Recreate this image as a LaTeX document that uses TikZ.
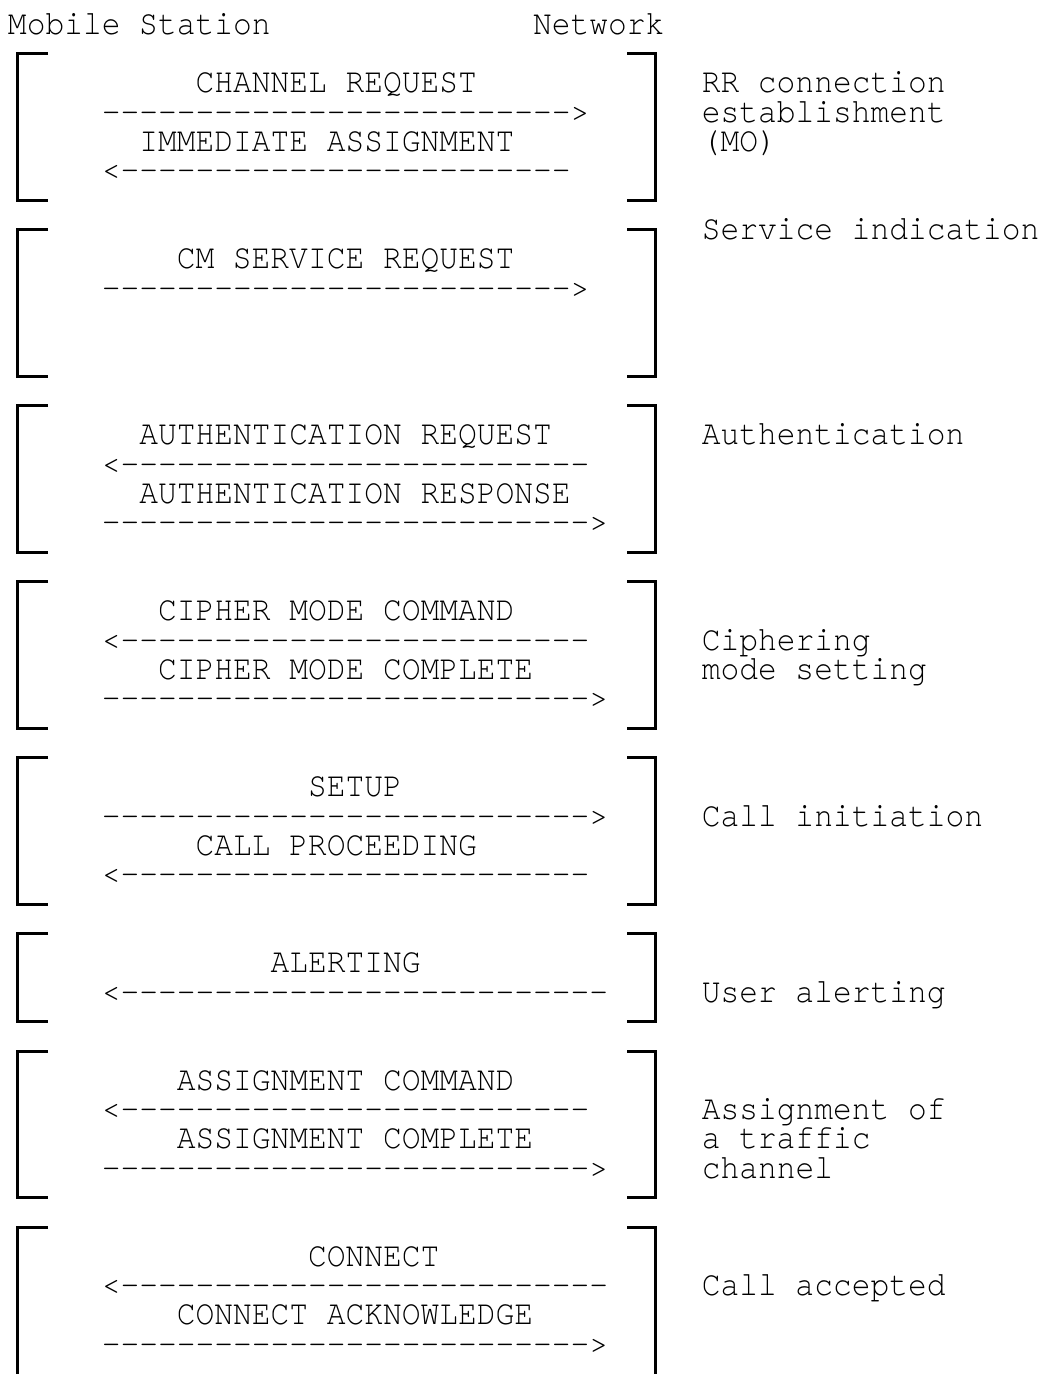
\documentclass[tikz,border=0pt]{standalone}
\usepackage{fontspec}
\newfontfamily\asciifont[Ligatures={TeXOff,CommonOff},FakeStretch=0.906]{TeX Gyre Cursor}
\def\dten{----------}
\def\cw{18.75}
\def\rh{29.333}
\tikzset{
  txt/.style={anchor=base west, inner sep=0pt, outer sep=0pt,
    text height=20pt, text depth=4pt,
    font=\asciifont\fontsize{34.5}{34.5}\selectfont},
  brk/.style={line width=3pt, line join=miter}
}
\newcommand{\msg}[4]{\node[txt] (#1) at ({8+\cw*#2},{34+\rh*#3}) {#4};}
\newcommand{\grp}[3]{%
  \coordinate (#1tl) at (17.8,{24.5+\rh*#2});
  \coordinate (#1bl) at (17.8,{24.5+\rh*#3});
  \coordinate (#1tr) at (655.5,{24.5+\rh*#2});
  \coordinate (#1br) at (655.5,{24.5+\rh*#3});
  \draw[brk] ([xshift=30.2pt]#1tl) -- (#1tl) -- (#1bl) -- ([xshift=30.2pt]#1bl);
  \draw[brk] ([xshift=-28.5pt]#1tr) -- (#1tr) -- (#1br) -- ([xshift=-28.5pt]#1br);
}
\begin{document}
\begin{tikzpicture}[x=1pt,y=-1pt]
\useasboundingbox (0,0) rectangle (1043,1374);
% headers
\msg{ms}{0}{0}{Mobile Station}
\msg{nw}{28}{0}{Network}
% group 1
\grp{g1}{1}{6}
\msg{m1}{10}{2}{CHANNEL REQUEST}
\msg{a1}{5}{3}{\dten\dten----->}
\msg{m2}{7}{4}{IMMEDIATE ASSIGNMENT}
\msg{a2}{5}{5}{<\dten\dten----}
\msg{l1a}{37}{2}{RR connection}
\msg{l1b}{37}{3}{establishment}
\msg{l1c}{37}{4}{(MO)}
% group 2
\grp{g2}{7}{12}
\msg{m3}{9}{8}{CM SERVICE REQUEST}
\msg{a3}{5}{9}{\dten\dten----->}
\msg{l2}{37}{7}{Service indication}
% group 3
\grp{g3}{13}{18}
\msg{m4}{7}{14}{AUTHENTICATION REQUEST}
\msg{a4}{5}{15}{<\dten\dten-----}
\msg{m5}{7}{16}{AUTHENTICATION RESPONSE}
\msg{a5}{5}{17}{\dten\dten------>}
\msg{l3}{37}{14}{Authentication}
% group 4
\grp{g4}{19}{24}
\msg{m6}{8}{20}{CIPHER MODE COMMAND}
\msg{a6}{5}{21}{<\dten\dten-----}
\msg{m7}{8}{22}{CIPHER MODE COMPLETE}
\msg{a7}{5}{23}{\dten\dten------>}
\msg{l4a}{37}{21}{Ciphering}
\msg{l4b}{37}{22}{mode setting}
% group 5
\grp{g5}{25}{30}
\msg{m8}{16}{26}{SETUP}
\msg{a8}{5}{27}{\dten\dten------>}
\msg{m9}{10}{28}{CALL PROCEEDING}
\msg{a9}{5}{29}{<\dten\dten-----}
\msg{l5}{37}{27}{Call initiation}
% group 6
\grp{g6}{31}{34}
\msg{m10}{14}{32}{ALERTING}
\msg{a10}{5}{33}{<\dten\dten------}
\msg{l6}{37}{33}{User alerting}
% group 7
\grp{g7}{35}{40}
\msg{m11}{9}{36}{ASSIGNMENT COMMAND}
\msg{a11}{5}{37}{<\dten\dten-----}
\msg{m12}{9}{38}{ASSIGNMENT COMPLETE}
\msg{a12}{5}{39}{\dten\dten------>}
\msg{l7a}{37}{37}{Assignment of}
\msg{l7b}{37}{38}{a traffic}
\msg{l7c}{37}{39}{channel}
% group 8 (open at the bottom)
\coordinate (g8tl) at (17.8,{24.5+\rh*41});
\coordinate (g8bl) at (17.8,1374);
\coordinate (g8tr) at (655.5,{24.5+\rh*41});
\coordinate (g8br) at (655.5,1374);
\draw[brk] ([xshift=30.2pt]g8tl) -- (g8tl) -- (g8bl);
\draw[brk] ([xshift=-28.5pt]g8tr) -- (g8tr) -- (g8br);
\msg{m13}{16}{42}{CONNECT}
\msg{a13}{5}{43}{<\dten\dten------}
\msg{m14}{9}{44}{CONNECT ACKNOWLEDGE}
\msg{a14}{5}{45}{\dten\dten------>}
\msg{l8}{37}{43}{Call accepted}
\end{tikzpicture}
\end{document}
